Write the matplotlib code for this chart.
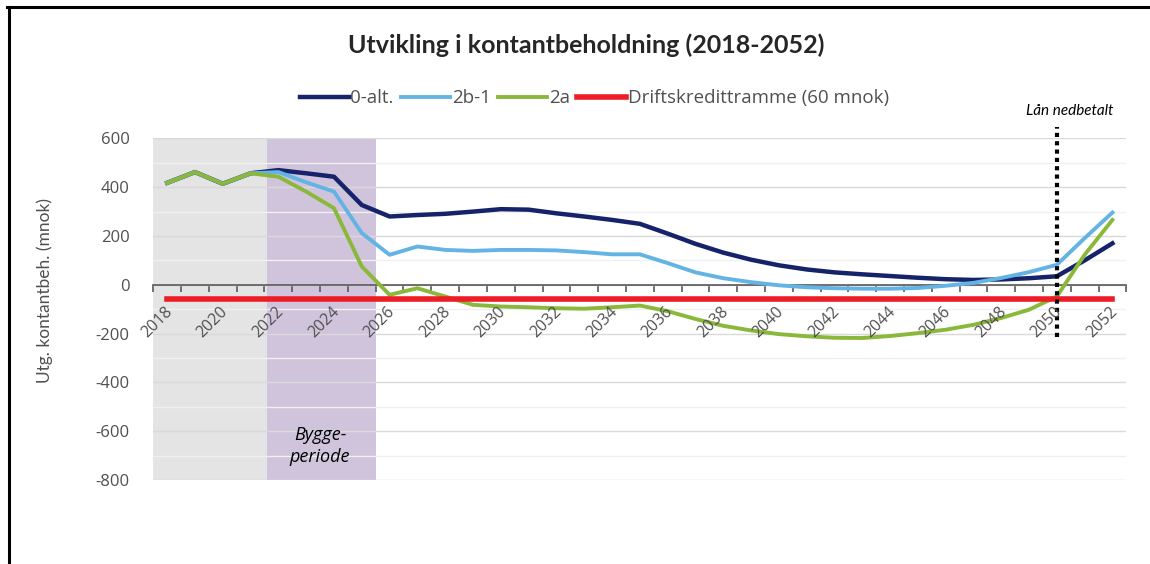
import numpy as np
import matplotlib
matplotlib.use("Agg")
import matplotlib.pyplot as plt
from matplotlib.lines import Line2D

plt.rcParams['font.family'] = ['Open Sans', 'DejaVu Sans']
plt.rcParams['axes.unicode_minus'] = False

# data (mnok)
years = list(range(2018, 2053))
alt0 = [418, 462, 414, 457, 470, 457, 443, 327, 280, 286, 291, 300, 310, 308, 293,
        280, 266, 250, 210, 168, 132, 103, 80, 63, 51, 43, 36, 29, 23, 20, 22, 27,
        35, 100, 170]
alt2b1 = [418, 462, 414, 457, 462, 420, 382, 212, 123, 157, 143, 139, 143, 143, 141,
          134, 125, 125, 89, 51, 27, 11, -2, -10, -14, -16, -16, -13, -4, 8, 28, 52,
          82, 191, 296]
alt2a = [418, 462, 414, 457, 443, 382, 314, 75, -41, -14, -48, -82, -89, -92, -96,
         -98, -92, -85, -108, -140, -168, -187, -202, -211, -217, -218, -210, -198,
         -184, -164, -136, -102, -48, 123, 266]
drift = [-60] * len(years)
labels = ['0-alt.', '2b-1', '2a', 'Driftskredittramme (60 mnok)']

x = np.arange(len(years))
txt = '#505050'

fig = plt.figure(figsize=(11.5, 5.64), dpi=100)
ax = fig.add_axes([0.1333, 0.1489, 0.8461, 0.6057])

# shaded periods
ax.axvspan(-0.5, 3.6, color='#e4e4e4', lw=0, zorder=0)
ax.axvspan(3.6, 7.5, color='#d0c4dc', lw=0, zorder=0)

ax.plot(x, alt0, color='#16226a', lw=3.2, label=labels[0], zorder=3)
ax.plot(x, alt2b1, color='#63b4e4', lw=2.8, label=labels[1], zorder=3)
ax.plot(x, alt2a, color='#8ab83a', lw=2.8, label=labels[2], zorder=3)
ax.plot(x, drift, color='#ee1c24', lw=4, label=labels[3], zorder=4)

# "loan repaid" marker
i50 = years.index(2050)
ax.plot([i50, i50], [-215, 645], color='black', lw=3, ls=(0, (1, 1)),
        dash_capstyle='butt', clip_on=False, zorder=5)
ax.text(i50 + 0.47, 712, 'Lån nedbetalt', style='italic', fontsize=11,
        family=['Lato', 'DejaVu Sans'], ha='center', va='center')
ax.text(5.5, -660, 'Bygge-\nperiode', style='italic', fontsize=13,
        ha='center', va='center', linespacing=1.3)

ax.set_xlim(-0.5, len(years) - 0.5)
ax.set_ylim(-800, 600)
ax.set_yticks(range(-800, 601, 200))
ax.set_yticks(range(-700, 600, 200), minor=True)
ax.grid(axis='y', which='major', color='#d9d9d9', lw=1)
ax.grid(axis='y', which='minor', color='#f0f0f0', lw=1)
ax.set_axisbelow(True)

for s in ['top', 'right', 'left']:
    ax.spines[s].set_visible(False)
ax.spines['bottom'].set_position(('data', 0))
ax.spines['bottom'].set_color('#595959')
ax.spines['bottom'].set_linewidth(1.2)
ax.spines['bottom'].set_zorder(2)

# x ticks: marks at category borders, labels every other year (drawn on top)
ax.set_xticks(np.arange(-0.5, len(years), 1.0))
ax.set_xticklabels([])
ax.tick_params(axis='x', which='major', length=5, width=1.2, color='#595959', direction='out')
for xi, yr in zip(x[::2], years[::2]):
    ax.annotate(str(yr), xy=(xi, 0), xytext=(2, -18), textcoords='offset points',
                rotation=45, rotation_mode='anchor', ha='right', va='center',
                fontsize=11.5, color=txt, zorder=6)
ax.tick_params(axis='y', which='both', length=0, pad=17, labelsize=12, labelcolor=txt)

fig.text(0.039, 0.485, 'Utg. kontantbeh. (mnok)', rotation=90, fontsize=12.5,
         family=['Lato', 'DejaVu Sans'], color=txt, ha='center', va='center')
fig.text(0.51, 0.92, 'Utvikling i kontantbeholdning (2018-2052)', fontsize=18,
         family=['Lato', 'DejaVu Sans'], fontweight='bold', color='#262626',
         ha='center', va='center')

fig.legend(loc='center', bbox_to_anchor=(0.517, 0.826), ncol=4, frameon=False,
           fontsize=13.5, handlelength=2.6, handletextpad=0.1, columnspacing=0.4,
           labelcolor=txt)

# screenshot frame (left and top edges)
fig.add_artist(Line2D([0.0075, 0.0075], [0, 0.988], color='black', lw=2.2))
fig.add_artist(Line2D([0.0065, 1.0], [0.987, 0.987], color='black', lw=2.2))

fig.savefig('out.png', dpi=100)
